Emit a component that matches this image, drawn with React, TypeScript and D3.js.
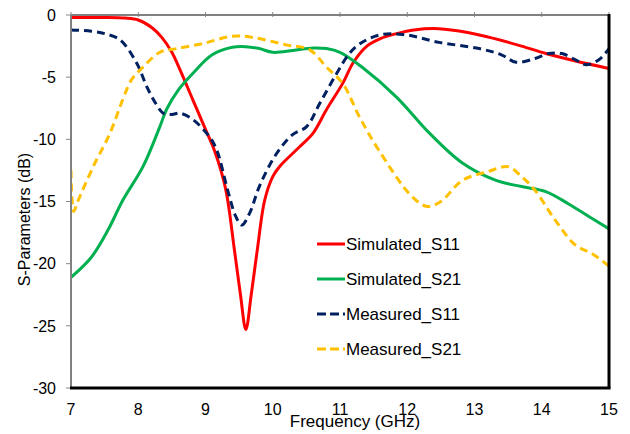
import React from 'react'
import * as d3 from 'd3'

// frequency (GHz) / dB pairs
const simS11F = [7, 7.5, 7.8, 8, 8.2, 8.35, 8.5, 8.62, 8.81, 9.0, 9.14, 9.3, 9.43, 9.52, 9.6, 9.68, 9.77, 9.88, 10.0, 10.1, 10.4, 10.6, 10.8, 11.04, 11.2, 11.4, 11.6, 11.84, 12.1, 12.47, 12.9, 13.3, 13.7, 14.06, 14.5, 15]
const simS11 = [-0.2, -0.2, -0.25, -0.4, -1.0, -1.8, -3.0, -4.4, -6.8, -9.2, -11.0, -14.0, -18.9, -22.5, -25.3, -22.5, -18.9, -14.9, -13.0, -12.2, -10.6, -9.5, -7.6, -5.5, -3.8, -2.5, -1.9, -1.5, -1.2, -1.1, -1.4, -1.9, -2.5, -3.1, -3.7, -4.3]

const simS21F = [7, 7.3, 7.55, 7.77, 8.07, 8.32, 8.42, 8.6, 8.81, 9.1, 9.4, 9.6, 9.8, 10.0, 10.3, 10.6, 10.8, 11.0, 11.33, 11.84, 12.33, 12.82, 13.32, 13.7, 14.06, 14.4, 14.7, 15]
const simS21 = [-21.1, -19.5, -17.3, -14.9, -12.2, -9.0, -7.6, -6.0, -4.7, -3.2, -2.6, -2.55, -2.7, -3.0, -2.85, -2.65, -2.7, -3.0, -4.2, -6.6, -9.5, -11.9, -13.3, -13.8, -14.2, -15.2, -16.2, -17.2]

const measS11F = [7, 7.3, 7.5, 7.73, 7.98, 8.13, 8.27, 8.37, 8.5, 8.62, 8.81, 9.06, 9.17, 9.33, 9.45, 9.54, 9.66, 9.8, 10.05, 10.3, 10.5, 10.7, 10.95, 11.14, 11.3, 11.59, 11.98, 12.47, 13.07, 13.4, 13.62, 13.9, 14.1, 14.3, 14.5, 14.66, 14.85, 15]
const measS11 = [-1.2, -1.3, -1.5, -2.0, -3.9, -5.8, -7.2, -7.9, -8.0, -7.9, -8.4, -9.8, -10.9, -14.1, -16.2, -16.9, -15.9, -13.8, -11.2, -9.6, -9.0, -7.1, -4.7, -3.1, -2.3, -1.6, -1.6, -2.2, -2.7, -3.2, -3.8, -3.5, -3.1, -3.1, -3.6, -4.0, -3.6, -2.7]

const measS21F = [7, 7.04, 7.1, 7.33, 7.58, 7.77, 7.9, 8.07, 8.32, 8.57, 8.96, 9.4, 9.7, 10.2, 10.55, 10.8, 11.04, 11.29, 11.58, 12.07, 12.3, 12.5, 12.82, 13.2, 13.5, 13.7, 13.9, 14.2, 14.5, 14.75, 15]
const measS21 = [-12.5, -15.8, -15.0, -12.2, -9.5, -6.8, -5.2, -4.2, -3.0, -2.7, -2.3, -1.7, -1.8, -2.4, -2.8, -4.2, -5.5, -8.2, -10.9, -14.6, -15.4, -15.0, -13.3, -12.6, -12.2, -13.0, -14.1, -16.5, -18.5, -19.2, -20.2]

const xTicks = [7, 8, 9, 10, 11, 12, 13, 14, 15]
const yTicks = [0, -5, -10, -15, -20, -25, -30]

const series = [
  {name: 'Simulated_S11', f: simS11F, v: simS11, color: '#ff0000', dash: ''},
  {name: 'Simulated_S21', f: simS21F, v: simS21, color: '#00b050', dash: ''},
  {name: 'Measured_S11', f: measS11F, v: measS11, color: '#002060', dash: '8,5'},
  {name: 'Measured_S21', f: measS21F, v: measS21, color: '#ffc000', dash: '8,5'},
]

const left = 71, right = 609, top = 15, bottom = 388
const font = 'Arial, "Liberation Sans", sans-serif'

export default function App() {
  const x = d3.scaleLinear().domain([7, 15]).range([left, right])
  const y = d3.scaleLinear().domain([0, -30]).range([top, bottom])
  const line = d3.line<[number, number]>()
    .x(d => x(d[0]))
    .y(d => y(d[1]))
    .curve(d3.curveCatmullRom.alpha(0.5))

  return (
    <svg width={630} height={434} style={{position: 'absolute', left: 0, top: 0}}>
      <rect width={630} height={434} fill='white' />
      {yTicks.map(t => (
        <g key={t}>
          <line x1={left - 5} x2={left} y1={y(t)} y2={y(t)} stroke='#888' strokeWidth={1} />
          <text x={left - 15} y={y(t)} dy='0.36em' textAnchor='end' fontFamily={font} fontSize={16}>{t}</text>
        </g>
      ))}
      {xTicks.map(t => (
        <g key={t}>
          <line x1={x(t)} x2={x(t)} y1={top - 3} y2={top + 2} stroke='#888' strokeWidth={1} />
          <text x={x(t)} y={409} dy='0.36em' textAnchor='middle' fontFamily={font} fontSize={16}>{t}</text>
        </g>
      ))}
      <clipPath id='plot'>
        <rect x={left} y={top} width={right - left} height={bottom - top} />
      </clipPath>
      <g clipPath='url(#plot)'>
        {series.map(s => (
          <path key={s.name} d={line(s.f.map((f, i) => [f, s.v[i]] as [number, number])) || ''}
            fill='none' stroke={s.color} strokeWidth={3} strokeDasharray={s.dash} />
        ))}
      </g>
      <line x1={left} x2={right} y1={top} y2={top} stroke='#808080' strokeWidth={2} />
      <line x1={left} x2={left} y1={top} y2={bottom} stroke='#808080' strokeWidth={2} />
      <line x1={left - 1} x2={right + 1.5} y1={bottom} y2={bottom} stroke='#000' strokeWidth={3} />
      <line x1={right} x2={right} y1={top - 1} y2={bottom} stroke='#000' strokeWidth={3} />
      {series.map((s, i) => (
        <g key={s.name} transform={`translate(317,${244 + i * 35})`}>
          <line x1={0} x2={28} y1={0} y2={0} stroke={s.color} strokeWidth={3} strokeDasharray={s.dash ? '9,4' : ''} />
          <text x={29} y={0} dy='0.36em' fontFamily={font} fontSize={17}>{s.name}</text>
        </g>
      ))}
      <text x={355} y={421} dy='0.36em' textAnchor='middle' fontFamily={font} fontSize={17}>Frequency (GHz)</text>
      <text transform={`translate(24,${(top + bottom) / 2 + 18}) rotate(-90)`} dy='0.36em' textAnchor='middle' fontFamily={font} fontSize={16}>S-Parameters (dB)</text>
    </svg>
  )
}
